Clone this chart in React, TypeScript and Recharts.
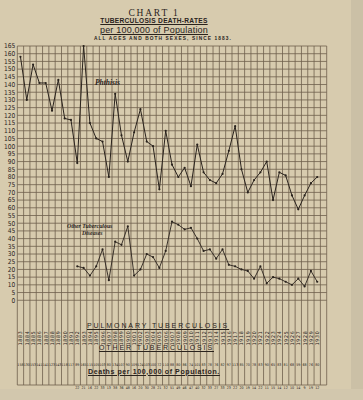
import React from 'react';
import { ComposedChart, Line, XAxis, YAxis, CartesianGrid } from 'recharts';

const years: number[] = [
  1883, 1884, 1885, 1886, 1887, 1888, 1889, 1890, 1891, 1892,
  1893, 1894, 1895, 1896, 1897, 1898, 1899, 1900, 1901, 1902,
  1903, 1904, 1905, 1906, 1907, 1908, 1909, 1910, 1911, 1912,
  1913, 1914, 1915, 1916, 1917, 1918, 1919, 1920, 1921, 1922,
  1923, 1924, 1925, 1926, 1927, 1928, 1929, 1930,
];

const phthisis: number[] = [
  158, 130, 153, 141, 141, 123, 143, 118, 117, 89,
  165, 115, 105, 103, 80, 134, 107, 90, 109, 124,
  103, 100, 72, 110, 88, 80, 86, 74, 101, 83,
  78, 76, 82, 97, 113, 85, 70, 78, 83, 90,
  65, 83, 81, 68, 59, 68, 76, 80,
];

const otherTb: (number | null)[] = [
  null, null, null, null, null, null, null, null, null, 22,
  21, 16, 22, 33, 13, 38, 36, 48, 16, 20,
  30, 28, 21, 32, 51, 49, 46, 47, 40, 32,
  33, 27, 33, 23, 22, 20, 19, 14, 22, 11,
  15, 14, 12, 10, 14, 9, 19, 12,
];

const yTicks: number[] = [
  0, 5, 10, 15, 20, 25, 30, 35, 40, 45, 50, 55, 60, 65, 70, 75, 80,
  85, 90, 95, 100, 105, 110, 115, 120, 125, 130, 135, 140, 145, 150,
  155, 160, 165,
];

const COLUMNS = years.length + 1; // one empty column at the right edge
const gridTicks: number[] = Array.from({ length: COLUMNS + 1 }, (_, k) => k);
const centerTicks: number[] = years.map((_, i) => i + 0.5);

const rows = years.map((yr, i) => ({
  x: i + 0.5,
  year: String(yr),
  phthisis: phthisis[i],
  other: otherTb[i],
}));

const INK = '#2a231d';
const GRID = '#6e604c';
const PAPER = '#d7cbae';

function YearTick(props: any) {
  const { x, y, payload } = props;
  const i = Math.floor(payload.value);
  const r = rows[i];
  if (!r) return null;
  const yy = y - 77;
  return (
    <g>
      <text
        x={x}
        y={yy}
        transform={`rotate(-90 ${x} ${yy})`}
        textAnchor="middle"
        dominantBaseline="central"
        fontSize={5.2}
        letterSpacing={0.7}
        fontFamily="'DejaVu Sans Condensed', 'Liberation Sans Narrow', sans-serif"
        fill={INK}
      >
        {r.year}
      </text>
      <text
        x={x}
        y={y - 49}
        textAnchor="middle"
        fontSize={3.6}
        fontFamily="'DejaVu Sans Condensed', sans-serif"
        fill={INK}
      >
        {r.phthisis}
      </text>
      {r.other != null && (
        <text
          x={x}
          y={y - 26}
          textAnchor="middle"
          fontSize={3.6}
          fontFamily="'DejaVu Sans Condensed', sans-serif"
          fill={INK}
        >
          {r.other}
        </text>
      )}
    </g>
  );
}

const axisFont = {
  fontSize: 6.6,
  fill: INK,
  fontFamily: "'DejaVu Sans Condensed', 'Liberation Sans Narrow', sans-serif",
};

const abs = (s: React.CSSProperties): React.CSSProperties => ({
  position: 'absolute',
  whiteSpace: 'nowrap',
  color: INK,
  lineHeight: 1,
  ...s,
});

export default function App() {
  return (
    <div
      style={{
        position: 'absolute',
        left: 0,
        top: 0,
        width: 363,
        height: 400,
        background: PAPER,
        overflow: 'hidden',
      }}
    >
      <div style={{ position: 'absolute', left: 351, top: 0, width: 12, height: 400, background: '#cbc0a6' }} />
      <div style={{ position: 'absolute', left: 0, top: 389, width: 363, height: 11, background: '#d2c7ad' }} />
      <div style={{ position: 'absolute', left: 0, top: 0 }}>
        <ComposedChart
          width={363}
          height={400}
          data={rows}
          margin={{ top: 46, right: 16, bottom: 14, left: 2 }}
        >
          <XAxis
            xAxisId="grid"
            type="number"
            dataKey="x"
            domain={[0, COLUMNS]}
            ticks={gridTicks}
            interval={0}
            hide
          />
          <XAxis
            xAxisId="main"
            type="number"
            dataKey="x"
            domain={[0, COLUMNS]}
            ticks={centerTicks}
            interval={0}
            tick={<YearTick />}
            axisLine={false}
            tickLine={false}
            tickSize={0}
            tickMargin={0}
            height={1}
          />
          <YAxis
            yAxisId="left"
            domain={[-55, 165]}
            ticks={yTicks}
            interval={0}
            width={15.3}
            axisLine={false}
            tickLine={false}
            tickSize={0}
            tickMargin={2}
            tick={axisFont}
          />
          <YAxis
            yAxisId="right"
            orientation="right"
            domain={[-55, 165]}
            ticks={yTicks}
            interval={0}
            width={20.3}
            axisLine={false}
            tickLine={false}
            tickSize={0}
            tickMargin={2}
            tick={{ ...axisFont, textAnchor: 'start' }}
          />
          <CartesianGrid
            xAxisId="grid"
            yAxisId="left"
            stroke={GRID}
            strokeWidth={0.8}
          />
          <Line
            xAxisId="main"
            yAxisId="left"
            dataKey="phthisis"
            stroke={INK}
            strokeWidth={1}
            dot={{ r: 1.1, fill: INK, stroke: INK, strokeWidth: 0 }}
            isAnimationActive={false}
          />
          <Line
            xAxisId="main"
            yAxisId="left"
            dataKey="other"
            stroke={INK}
            strokeWidth={0.9}
            dot={{ r: 1.1, fill: INK, stroke: INK, strokeWidth: 0 }}
            isAnimationActive={false}
          />
        </ComposedChart>
      </div>

      <div style={abs({ left: 54, top: 9, width: 200, textAlign: 'center', fontFamily: "'Liberation Serif', serif", fontSize: 9.5, letterSpacing: 1.8 })}>
        CHART 1
      </div>
      <div style={abs({ left: 54, top: 17.5, width: 200, textAlign: 'center', fontFamily: "'Liberation Sans', sans-serif", fontSize: 6.6, fontWeight: 700, letterSpacing: 0.3, textDecoration: 'underline' })}>
        TUBERCULOSIS DEATH-RATES
      </div>
      <div style={abs({ left: 54, top: 26, width: 200, textAlign: 'center', fontFamily: "'Liberation Sans', sans-serif", fontSize: 9, letterSpacing: 0.2, textDecoration: 'underline' })}>
        per 100,000 of Population
      </div>
      <div style={abs({ left: 54, top: 36.5, width: 218, textAlign: 'center', fontFamily: "'Liberation Sans', sans-serif", fontSize: 4.8, fontWeight: 700, letterSpacing: 1.1 })}>
        ALL AGES AND BOTH SEXES, SINCE 1883.
      </div>

      <div style={abs({ left: 95, top: 78.5, fontFamily: "'Liberation Serif', serif", fontStyle: 'italic', fontWeight: 700, fontSize: 7.5 })}>
        Phthisis
      </div>
      <div style={abs({ left: 67, top: 223.5, fontFamily: "'Liberation Serif', serif", fontStyle: 'italic', fontWeight: 700, fontSize: 5.8 })}>
        Other Tuberculous
      </div>
      <div style={abs({ left: 82, top: 230.5, fontFamily: "'Liberation Serif', serif", fontStyle: 'italic', fontWeight: 700, fontSize: 5.8 })}>
        Diseases
      </div>

      <div style={abs({ left: 87, top: 322, fontFamily: "'Liberation Sans', sans-serif", fontSize: 7, letterSpacing: 1.9, textDecoration: 'underline' })}>
        PULMONARY TUBERCULOSIS
      </div>
      <div style={abs({ left: 99, top: 343.5, fontFamily: "'Liberation Sans', sans-serif", fontSize: 7, letterSpacing: 1.9, textDecoration: 'underline' })}>
        OTHER TUBERCULOSIS
      </div>
      <div style={abs({ left: 88, top: 367.5, fontFamily: "'Liberation Sans', sans-serif", fontSize: 7, fontWeight: 700, letterSpacing: 0.6, textDecoration: 'underline' })}>
        Deaths per 100,000 of Population.
      </div>
    </div>
  );
}
